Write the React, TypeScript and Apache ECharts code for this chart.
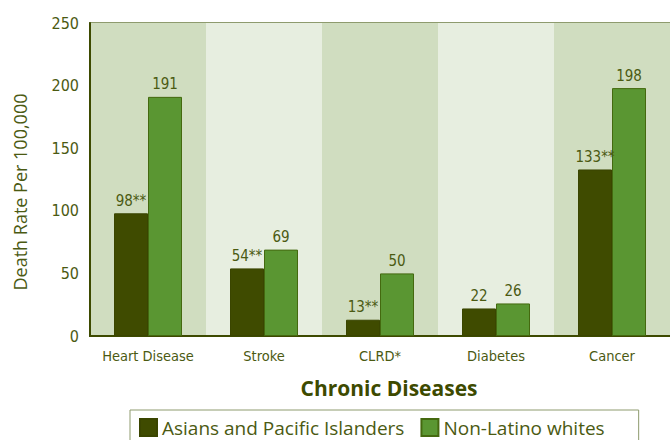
import React, { useEffect, useRef } from "react";
import * as echarts from "echarts";

const categories = ["Heart Disease", "Stroke", "CLRD*", "Diabetes", "Cancer"];
const asianValues = [98, 54, 13, 22, 133];
const asianMarks = ["**", "**", "**", "", "**"];
const whiteValues = [191, 69, 50, 26, 198];
const seriesNames = ["Asians and Pacific Islanders", "Non-Latino whites"];

const COND = "'Liberation Sans Narrow', 'DejaVu Sans Condensed', 'Roboto Condensed', 'Arial Narrow', sans-serif";
const TXT = "#4b5a12";

export default function App() {
  const ref = useRef<HTMLDivElement>(null);
  useEffect(() => {
    const chart = echarts.init(ref.current!, undefined, { renderer: "svg" });
    chart.setOption({
      animation: false,
      backgroundColor: "#ffffff",
      grid: {
        left: 90,
        top: 23,
        width: 583,
        height: 313,
        show: true,
        borderColor: "#8e9b6e",
        borderWidth: 2,
        backgroundColor: "transparent",
      },
      legend: {
        left: 130,
        top: 410,
        itemWidth: 17,
        itemHeight: 17,
        itemGap: 16,
        padding: [8, 34, 8, 9],
        borderColor: "#8e9b6e",
        borderWidth: 1,
        icon: "rect",
        textStyle: { color: TXT, fontSize: 19, fontFamily: "'Open Sans', 'Noto Sans', sans-serif" },
        data: seriesNames,
      },
      xAxis: {
        type: "category",
        data: categories,
        axisLine: { lineStyle: { color: "#3d4a00", width: 2 } },
        axisTick: { show: false },
        axisLabel: { color: TXT, fontSize: 14.5, fontFamily: COND, margin: 12, interval: 0 },
        splitArea: { show: true, interval: 0, areaStyle: { color: ["#d0ddc0", "#e7eee0"] } },
      },
      yAxis: {
        type: "value",
        min: 0,
        max: 250,
        interval: 50,
        axisLine: { show: true, lineStyle: { color: "#3d4a00", width: 2 } },
        axisTick: { show: false },
        splitLine: { show: false },
        axisLabel: { color: TXT, fontSize: 16, fontFamily: COND, margin: 11 },
      },
      graphic: [
        {
          type: "text",
          x: 20,
          y: 192,
          rotation: Math.PI / 2,
          style: {
            text: "Death Rate Per 100,000",
            fill: TXT,
            fontSize: 18,
            fontFamily: "'Open Sans', 'Noto Sans', sans-serif",
            align: "center",
            verticalAlign: "middle",
          },
        },
        {
          type: "text",
          x: 389,
          y: 388,
          style: {
            text: "Chronic Diseases",
            fill: "#3d4a00",
            fontSize: 21,
            fontWeight: "bold",
            fontFamily: "'Open Sans', 'Noto Sans', sans-serif",
            align: "center",
            verticalAlign: "middle",
          },
        },
      ],
      series: [
        {
          name: seriesNames[0],
          type: "bar",
          data: asianValues,
          barWidth: 34,
          barGap: "0%",
          itemStyle: { color: "#3f4b00", borderColor: "#3a4500", borderWidth: 1 },
          label: {
            show: true,
            position: "top",
            distance: 5,
            color: TXT,
            fontSize: 15,
            fontFamily: COND,
            formatter: (p: any) => `${p.value}${asianMarks[p.dataIndex]}`,
          },
        },
        {
          name: seriesNames[1],
          type: "bar",
          data: whiteValues,
          barWidth: 34,
          itemStyle: { color: "#5a9632", borderColor: "#44690f", borderWidth: 1 },
          label: {
            show: true,
            position: "top",
            distance: 5,
            color: TXT,
            fontSize: 15,
            fontFamily: COND,
          },
        },
      ],
    });
    return () => chart.dispose();
  }, []);
  return <div ref={ref} style={{ width: 670, height: 440, position: "absolute", left: 0, top: 0 }} />;
}
